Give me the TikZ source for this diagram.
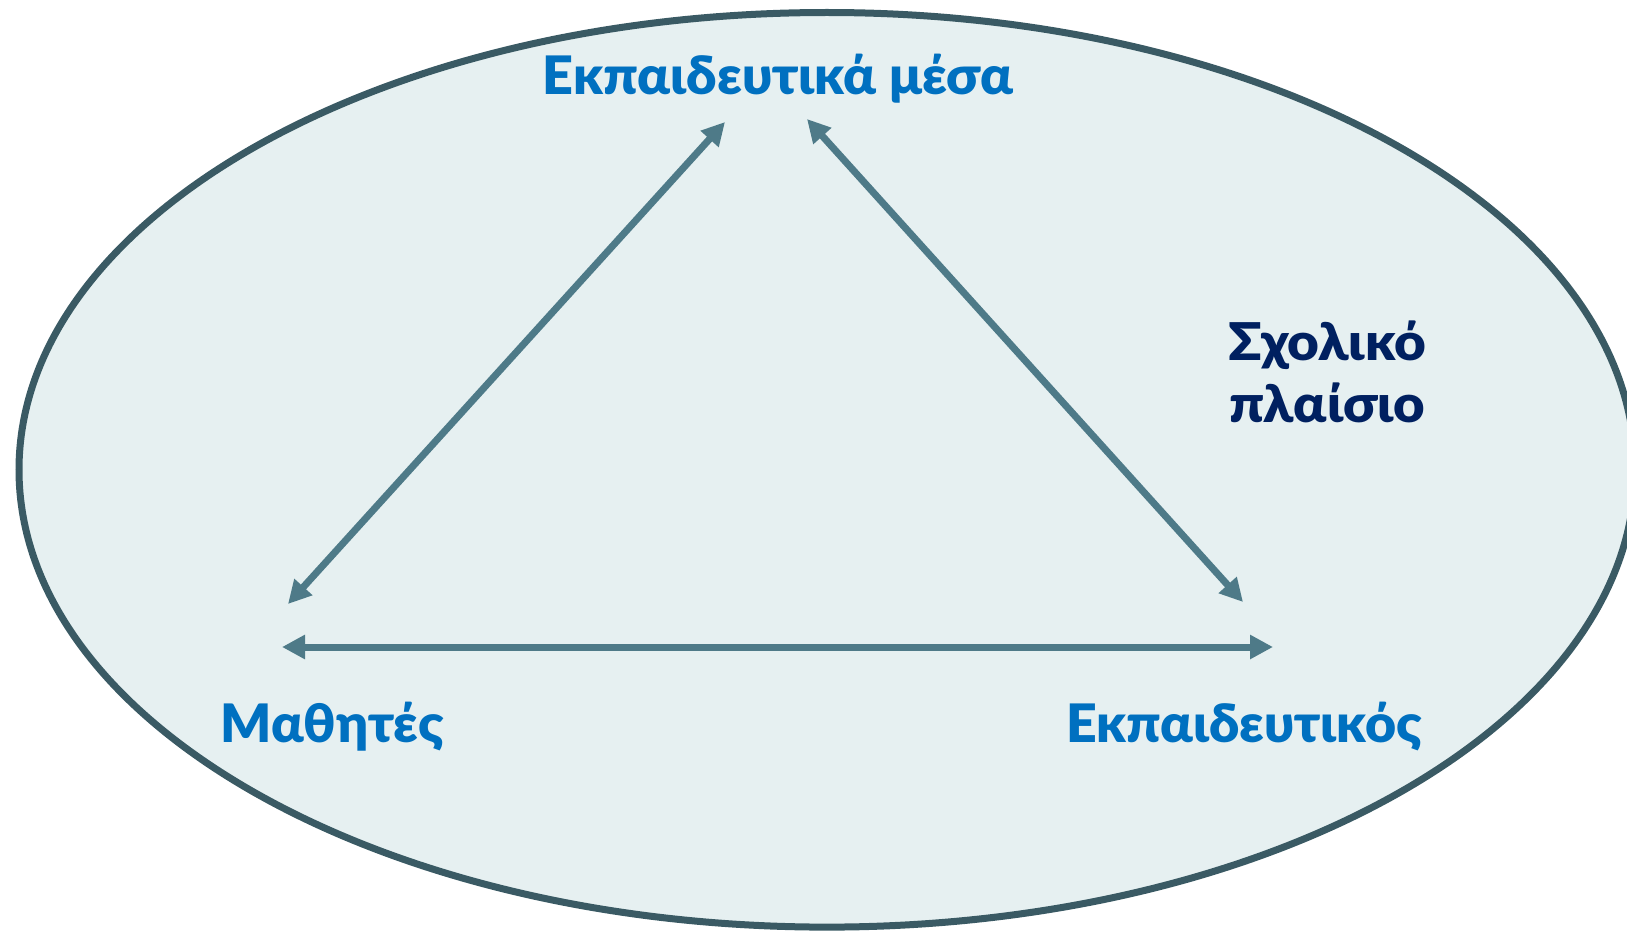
\documentclass[tikz,border=0pt]{standalone}
\usepackage{graphicx}
\usepackage{fontspec}
\setmainfont{Lato}[BoldFont={Lato Black}]
\usetikzlibrary{arrows.meta}
\definecolor{fillc}{HTML}{E6F0F1}
\definecolor{rimc}{HTML}{3A5A64}
\definecolor{arrc}{HTML}{4E7A88}
\definecolor{lblue}{HTML}{0070C0}
\definecolor{navy}{HTML}{002060}
\newcommand\fitw[2]{\resizebox{#1}{\height}{#2}}
\tikzset{
  biarrow/.style={draw=arrc, line width=7pt, {Triangle[length=23pt,width=23pt]}-{Triangle[length=23pt,width=23pt]}},
  lbl/.style={inner sep=0pt, text=lblue, font=\bfseries\fontsize{53}{62}\selectfont, anchor=base},
  ctx/.style={inner sep=0pt, text=navy, font=\bfseries\fontsize{52}{62}\selectfont, anchor=base west}
}
\begin{document}
\begin{tikzpicture}[x=1pt, y=-1pt]
\useasboundingbox (0,0) rectangle (1627,936);
\clip (0,0) rectangle (1627,936);
\draw[fill=fillc, draw=rimc, line width=7pt] (827,469.8) ellipse [x radius=808, y radius=457.3];
\node[lbl] (media) at (778,95) {\fitw{471pt}{Εκπαιδευτικά μέσα}};
\node[lbl] (students) at (332,742) {\fitw{223pt}{Μαθητές}};
\node[lbl] (teacher) at (1244,742) {\fitw{356pt}{Εκπαιδευτικός}};
\node[ctx] (school1) at (1228,360) {\fitw{198pt}{Σχολικό}};
\node[ctx] (school2) at (1229,422) {\fitw{196pt}{πλαίσιο}};
\coordinate (mL) at (725,122);
\coordinate (mR) at (807,119);
\coordinate (sU) at (288,604);
\coordinate (sH) at (282,647);
\coordinate (tU) at (1243,602);
\coordinate (tH) at (1273,647);
\draw[biarrow] (sU) -- (mL);
\draw[biarrow] (mR) -- (tU);
\draw[biarrow] (sH) -- (tH);
\end{tikzpicture}
\end{document}
